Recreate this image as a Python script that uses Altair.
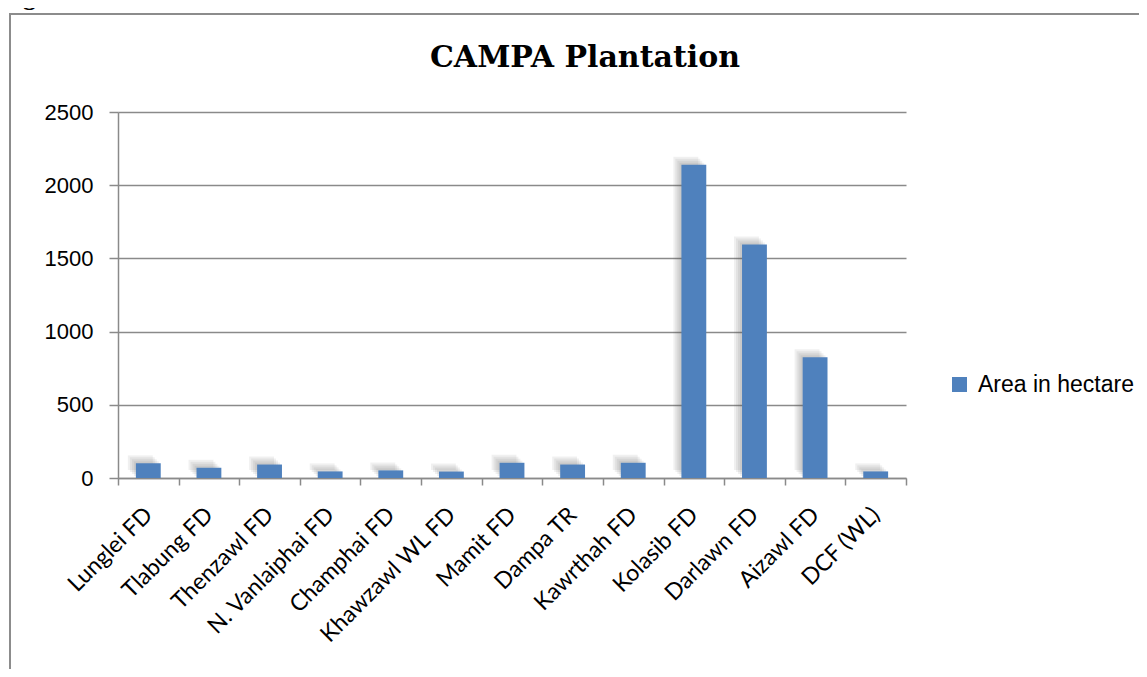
import altair as alt
import pandas as pd

districts = ["Lunglei FD", "Tlabung FD", "Thenzawl FD", "N. Vanlaiphai FD", "Champhai FD",
             "Khawzawl WL FD", "Mamit FD", "Dampa TR", "Kawrthah FD", "Kolasib FD",
             "Darlawn FD", "Aizawl FD", "DCF (WL)"]
area = [100, 70, 92, 45, 52, 44, 104, 92, 104, 2140, 1595, 825, 45]
series_name = "Area in hectare"
y_ticks = [0, 500, 1000, 1500, 2000, 2500]
chart_title = "CAMPA Plantation"
fig_text = "Fig.1"

df = pd.DataFrame({"District": districts, "Area": area, "Series": [series_name] * len(districts)})

GRAY = "#8a8a8a"

x_enc = alt.X(
    "District:N", sort=districts, title=None,
    scale=alt.Scale(paddingInner=0, paddingOuter=0),
    axis=alt.Axis(labelAngle=-45, labelAlign="right", labelBaseline="middle",
                  labelFont="Lato", labelFontSize=23, labelColor="black",
                  labelPadding=26, labelOverlap=False, labelLimit=400,
                  tickBand="extent", tickSize=7, tickColor=GRAY, tickWidth=1.5,
                  domainColor=GRAY, domainWidth=1.5, grid=False),
)
y_enc = alt.Y(
    "Area:Q", title=None,
    scale=alt.Scale(domain=[0, 2500], nice=False),
    axis=alt.Axis(values=y_ticks, format="d", grid=True, gridColor=GRAY, gridWidth=1.5,
                  tickSize=9, tickColor=GRAY, tickWidth=1.5,
                  domainColor=GRAY, domainWidth=1.5,
                  labelFont="Liberation Sans", labelFontSize=22, labelColor="black",
                  labelPadding=16),
)

base = alt.Chart(df).encode(x=x_enc, y=y_enc)

shadows = [
    base.mark_bar(width=alt.RelativeBandSize(0.41), color="#555555", opacity=0.09,
                  xOffset=-k, yOffset=-k, y2Offset=0)
    for k in (2, 4, 6, 8)
]

bars = base.mark_bar(width=alt.RelativeBandSize(0.41)).encode(
    color=alt.Color("Series:N", scale=alt.Scale(range=["#4f81bd"]),
                    legend=alt.Legend(title=None, orient="none", legendX=830, legendY=261,
                                      symbolType="square", symbolSize=225,
                                      symbolStrokeWidth=0, labelFont="Liberation Sans",
                                      labelFontSize=23, labelColor="black",
                                      labelOffset=7, padding=0))
)

one = pd.DataFrame({"t": [0]})
frame = alt.Chart(one).mark_rect(fill=None, stroke="#8c8c8c", strokeWidth=2).encode(
    x=alt.value(-108), y=alt.value(-98), x2=alt.value(1300), y2=alt.value(900)
)
fig_label = alt.Chart(one).mark_text(
    text=fig_text, font="Liberation Serif", fontWeight="bold", fontSize=26,
    align="left", baseline="alphabetic", color="black"
).encode(x=alt.value(-118), y=alt.value(-107))

title_mark = alt.Chart(one).mark_text(
    text=chart_title, font="DejaVu Serif", fontWeight="bold", fontSize=30,
    align="center", baseline="alphabetic", color="black"
).encode(x=alt.value(467), y=alt.value(-45))

chart = alt.layer(frame, fig_label, title_mark, *shadows, bars).properties(
    width=788, height=366,
    padding={"left": 110, "top": 104, "right": 233, "bottom": 191},
    autosize=alt.AutoSizeParams(type="none"),
    background="white",
).configure_view(strokeWidth=0, stroke="transparent")

chart.save("out.html", embed_options={"renderer": "svg", "actions": False})
